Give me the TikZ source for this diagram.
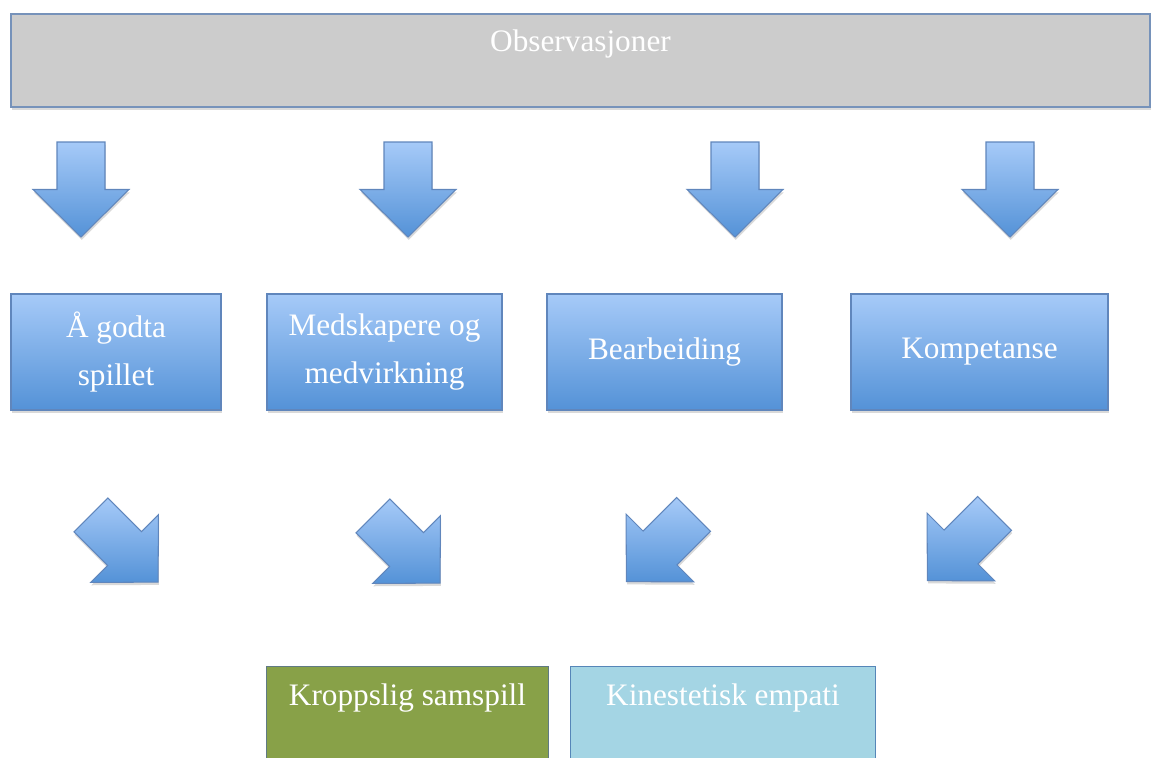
\documentclass[tikz,border=0pt]{standalone}
\usepackage{fontspec}
\setmainfont{Liberation Serif}
\usepackage{tikz}
\usetikzlibrary{positioning, calc, shadows}

\definecolor{boxtop}{RGB}{166,202,248}
\definecolor{boxbot}{RGB}{84,146,215}
\definecolor{boxline}{RGB}{96,134,188}
\definecolor{obsfill}{RGB}{204,204,204}
\definecolor{obsline}{RGB}{118,146,186}
\definecolor{kroppfill}{RGB}{136,161,72}
\definecolor{kroppline}{RGB}{96,122,132}
\definecolor{empatifill}{RGB}{164,213,228}
\definecolor{empatiline}{RGB}{86,134,184}

\tikzset{
  boxtext/.style={text=white, font=\fontsize{17.8}{27.5}\selectfont, inner sep=0pt, align=center},
  softshadow/.style={drop shadow={shadow xshift=0.4pt, shadow yshift=-1.6pt, opacity=0.25, fill=black!60}},
  obsbox/.style={draw=obsline, line width=1pt, fill=obsfill, inner sep=0pt, softshadow},
  catbox/.style={boxtext, draw=boxline, line width=0.8pt, top color=boxtop, bottom color=boxbot,
                 minimum height=2.32cm, softshadow},
  endbox/.style={inner sep=0pt, minimum height=1.82cm},
  arrowshape/.style={draw=boxline, line width=0.6pt, top color=boxtop, bottom color=boxbot, softshadow}
}

% block arrow: #1 = centre, #2 = direction
\newcommand{\blockarrow}[2]{%
  \path [arrowshape] ($(#1)+(#2:47.5)$) -- ($(#1)+(#2+90:48)$) -- ($(#1)+(#2+90:24)$)
    -- ($(#1)+(#2+153.2:53.2)$) -- ($(#1)+(#2-153.2:53.2)$) -- ($(#1)+(#2-90:24)$)
    -- ($(#1)+(#2-90:48)$) -- cycle;}

\begin{document}
\begin{tikzpicture}[x=0.02cm, y=-0.02cm]
  \useasboundingbox (0,0) rectangle (1154,758);

  % observations on top
  \node [obsbox, minimum width=22.78cm, minimum height=1.86cm] (obs) at (580.5,60.5) {};
  \node [boxtext, below=0.32cm of obs.north] (obstext) {Observasjoner};

  % arrows down
  \coordinate (down1) at (81,189.5);
  \coordinate (down2) at (408,189.5);
  \coordinate (down3) at (735,189.5);
  \coordinate (down4) at (1010,189.5);
  \foreach \a in {down1,down2,down3,down4}
    \blockarrow{\a}{90};

  % the four categories
  \node [catbox, minimum width=4.2cm] (godta) at (116,352) {Å godta\\spillet};
  \node [catbox, minimum width=4.7cm] (medskap) at (384.5,352) {Medskapere og\\medvirkning};
  \node [catbox, minimum width=4.7cm] (bearb) at (664.5,352) {Bearbeiding};
  \node [catbox, minimum width=5.14cm] (kompet) at (979.5,352) {Kompetanse};

  % arrows in towards the middle
  \coordinate (diag1) at (124.5,548.5);
  \coordinate (diag2) at (406.5,549.5);
  \coordinate (diag3) at (660,548);
  \coordinate (diag4) at (961,547);
  \blockarrow{diag1}{45};
  \blockarrow{diag2}{45};
  \blockarrow{diag3}{135};
  \blockarrow{diag4}{135};

  % the two results, cut at the bottom edge
  \node [endbox, fill=kroppfill, minimum width=5.62cm] (kropp) at (407.5,712.5) {};
  \draw [kroppline, line width=0.8pt] (kropp.south west) -- (kropp.north west) -- (kropp.north east) -- (kropp.south east);
  \node [boxtext, below=0.34cm of kropp.north] (kropptext) {Kroppslig samspill};

  \node [endbox, fill=empatifill, minimum width=6.08cm] (empati) at (723,712.5) {};
  \draw [empatiline, line width=0.8pt] (empati.south west) -- (empati.north west) -- (empati.north east) -- (empati.south east);
  \node [boxtext, below=0.34cm of empati.north] (empatitext) {Kinestetisk empati};
\end{tikzpicture}
\end{document}
